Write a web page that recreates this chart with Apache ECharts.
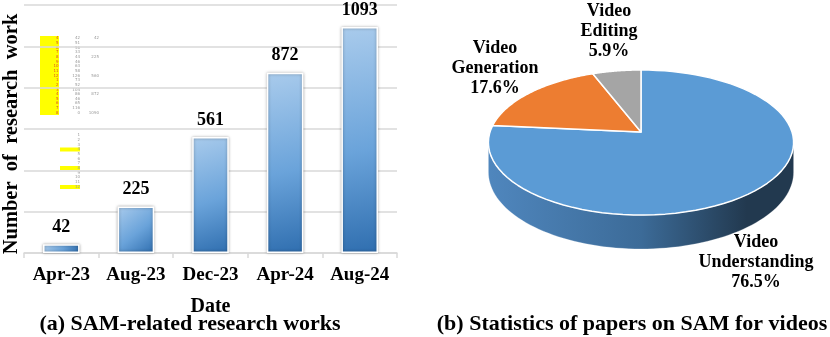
<!DOCTYPE html>
<html>
<head>
<meta charset="utf-8">
<script src="https://cdn.jsdelivr.net/npm/echarts@6/dist/echarts.min.js"></script>
<style>
  html, body { margin: 0; padding: 0; background: #fff; }
  #main { width: 830px; height: 337px; }
</style>
</head>
<body>
<div id="main"></div>
<script>
// bar chart (a)
const dates = ['Apr-23', 'Aug-23', 'Dec-23', 'Apr-24', 'Aug-24'];
const paperCounts = [42, 225, 561, 872, 1093];

// pie chart (b)
const pieNames = ['Video\nUnderstanding', 'Video\nGeneration', 'Video\nEditing'];
const piePercents = [76.5, 17.6, 5.9];

const FONT = '"Liberation Serif", "Times New Roman", serif';

// stray spreadsheet cells pasted into the figure
const strayRed = ['4', '5', '6', '7', '8', '9', '10', '11', '12', '1', '2', '3', '4', '5', '6', '7', '8'];
const strayMid = ['42', '51', '56', '33', '44', '46', '63', '58', '126', '73', '52', '104', '86', '46', '65', '116', '0'];
const strayRight = ['42', '', '', '', '225', '', '', '', '560', '', '', '', '872', '', '', '', '1090'];
const strayLow = ['1', '2', '3', '4', '5', '6', '7', '8', '9', '10', '11', '12'];

const chart = echarts.init(document.getElementById('main'));

// 3D pie layout (perspective ellipse)
const pie = { cx: 641, cy: 132, rx: 151, ry: 71, k: 0.145, depth: 29 };
const pieTop = ['#5b9bd5', '#ed7d31', '#a5a5a5'];
const pieSide = [
  ['#4f86bd', '#3c6b98', '#22394f'],
  ['#c4621f', '#a65219', '#7a3b10'],
  ['#8a8a8a', '#707070', '#505050']
];
const labelAt = [[756, 262], [495, 68], [609, 31]];

function ptOn(theta, dy) {
  const u = Math.sin(theta), v = -Math.cos(theta);
  const s = 1 / (1 - pie.k * v);
  return [pie.cx + pie.rx * u * s, pie.cy + pie.ry * v * s + (dy ? pie.depth * s : 0)];
}

const total = piePercents.reduce((a, b) => a + b, 0);
const starts = [];
let acc = 0;
piePercents.forEach(function (v) { starts.push(acc); acc += v; });

function renderSlice(params, api) {
  const i = params.dataIndex;
  const a = starts[i] / total * Math.PI * 2;
  const b = (starts[i] + piePercents[i]) / total * Math.PI * 2;
  const children = [];
  const n = 80;

  // side wall on the visible front half
  const lo = Math.acos(-pie.k), hi = Math.PI * 2 - lo;
  const s0 = Math.max(a, lo), s1 = Math.min(b, hi);
  if (s1 > s0) {
    const pts = [];
    for (let j = 0; j <= n; j++) pts.push(ptOn(s0 + (s1 - s0) * j / n, false));
    for (let j = n; j >= 0; j--) pts.push(ptOn(s0 + (s1 - s0) * j / n, true));
    children.push({
      type: 'polygon',
      shape: { points: pts },
      style: {
        fill: {
          type: 'linear', x: pie.cx - pie.rx, y: 0, x2: pie.cx + pie.rx, y2: 0, global: true,
          colorStops: [
            { offset: 0, color: pieSide[i][0] },
            { offset: 0.5, color: pieSide[i][1] },
            { offset: 0.85, color: pieSide[i][2] },
            { offset: 1, color: pieSide[i][2] }
          ]
        },
        stroke: 'rgba(255,255,255,0.5)',
        lineWidth: 0.5
      }
    });
  }

  // top face
  const top = [[pie.cx, pie.cy]];
  for (let j = 0; j <= n; j++) top.push(ptOn(a + (b - a) * j / n, false));
  children.push({
    type: 'polygon',
    shape: { points: top },
    style: { fill: pieTop[i], stroke: '#fff', lineWidth: 1.5, lineJoin: 'round' }
  });

  children.push({
    type: 'text',
    x: labelAt[i][0],
    y: labelAt[i][1],
    style: {
      text: pieNames[i] + '\n' + piePercents[i].toFixed(1) + '%',
      fontFamily: FONT, fontWeight: 'bold', fontSize: 18, lineHeight: 20,
      fill: '#000', align: 'center', verticalAlign: 'middle'
    }
  });
  return { type: 'group', children: children };
}

function strayText(lines, x, y, color, align) {
  return {
    type: 'text', x: x, y: y, silent: true,
    style: {
      text: lines.join('\n'), fontSize: 4, lineHeight: 4.65,
      fill: color, align: align, fontFamily: 'DejaVu Sans'
    }
  };
}

const option = {
  backgroundColor: '#fff',
  animation: false,
  grid: { left: 22, right: 433, top: 5, bottom: 84 },
  xAxis: {
    type: 'category',
    data: dates,
    name: 'Date',
    nameLocation: 'middle',
    nameGap: 44,
    nameTextStyle: { fontFamily: FONT, fontWeight: 'bold', fontSize: 20, color: '#000' },
    axisLine: { lineStyle: { color: '#d9d9d9', width: 1.5 } },
    axisTick: { show: true, length: 5, lineStyle: { color: '#d9d9d9', width: 1.5 } },
    axisLabel: { interval: 0, fontFamily: FONT, fontWeight: 'bold', fontSize: 19, color: '#000', margin: 13 }
  },
  yAxis: {
    type: 'value',
    min: 0, max: 1200, interval: 200,
    name: 'Number  of  research  work',
    nameLocation: 'middle',
    nameGap: 2,
    nameTextStyle: {
      fontFamily: FONT, fontWeight: 'bold', fontSize: 20.5, color: '#000',
      padding: [0, 10, 0, 0]
    },
    axisLabel: { show: false },
    axisLine: { show: false },
    axisTick: { show: false },
    splitLine: { lineStyle: { color: '#d9d9d9', width: 1.5 } }
  },
  series: [
    {
      type: 'bar',
      data: paperCounts,
      barWidth: '49%',
      itemStyle: {
        color: new echarts.graphic.LinearGradient(0, 0, 1, 1, [
          { offset: 0, color: '#a9cbec' },
          { offset: 0.55, color: '#6aa3da' },
          { offset: 1, color: '#2f6eaf' }
        ]),
        borderColor: '#fff',
        borderWidth: 1.5,
        shadowColor: 'rgba(0,0,0,0.35)',
        shadowBlur: 3
      },
      label: {
        show: true, position: 'top', distance: 8,
        fontFamily: FONT, fontWeight: 'bold', fontSize: 18, color: '#000'
      }
    },
    {
      type: 'custom',
      coordinateSystem: 'none',
      data: piePercents,
      renderItem: renderSlice
    }
  ],
  graphic: [
    { type: 'rect', silent: true, shape: { x: 40, y: 36, width: 19, height: 79 }, style: { fill: '#ffff00' } },
    { type: 'rect', silent: true, shape: { x: 60, y: 147.5, width: 20, height: 4 }, style: { fill: '#ffff00' } },
    { type: 'rect', silent: true, shape: { x: 60, y: 166, width: 20, height: 4 }, style: { fill: '#ffff00' } },
    { type: 'rect', silent: true, shape: { x: 60, y: 185, width: 20, height: 4 }, style: { fill: '#ffff00' } },
    strayText(strayRed, 58.5, 36, '#e05020', 'right'),
    strayText(strayMid, 80, 36, '#999', 'right'),
    strayText(strayRight, 99, 36, '#999', 'right'),
    strayText(strayLow, 80, 133, '#999', 'right'),
    {
      type: 'text', silent: true,
      style: {
        text: '(a) SAM-related research works', x: 190, y: 324,
        fontFamily: FONT, fontWeight: 'bold', fontSize: 22, fill: '#000',
        align: 'center', verticalAlign: 'middle'
      }
    },
    {
      type: 'text', silent: true,
      style: {
        text: '(b) Statistics of papers on SAM for videos', x: 632, y: 324,
        fontFamily: FONT, fontWeight: 'bold', fontSize: 22, fill: '#000',
        align: 'center', verticalAlign: 'middle'
      }
    }
  ]
};

chart.setOption(option);
</script>
</body>
</html>
